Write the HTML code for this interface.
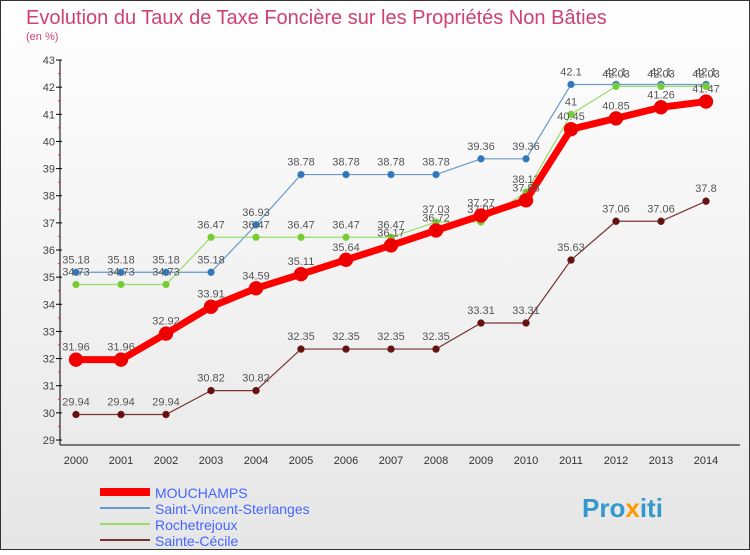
<!DOCTYPE html>
<html><head><meta charset="utf-8"><style>
body{margin:0;width:750px;height:550px;overflow:hidden;font-family:"Liberation Sans",sans-serif}
</style></head><body>
<svg width="750" height="550" xmlns="http://www.w3.org/2000/svg">
<defs><linearGradient id="bg" x1="0" y1="0" x2="0" y2="1"><stop offset="0" stop-color="#ffffff"/><stop offset="1" stop-color="#e6e6e6"/></linearGradient></defs>
<rect x="0.5" y="0.5" width="749" height="549" fill="url(#bg)" stroke="#333"/>
<text x="26" y="24" font-size="20" fill="#d04070">Evolution du Taux de Taxe Foncière sur les Propriétés Non Bâties</text>
<text x="26" y="40" font-size="11" fill="#d04070">(en %)</text>
<g id="axes"></g>
<g id="series"></g>
<g id="legend"></g>
<text x="582" y="517" font-size="26" font-weight="bold" fill="#3399cc">Pro<tspan fill="#ff9900">x</tspan>iti</text>
</svg>
<script>
const years=[2000,2001,2002,2003,2004,2005,2006,2007,2008,2009,2010,2011,2012,2013,2014];
const yTicks=[29,30,31,32,33,34,35,36,37,38,39,40,41,42,43];
const mouchamps=[31.96,31.96,32.92,33.91,34.59,35.11,35.64,36.17,36.72,37.27,37.83,40.45,40.85,41.26,41.47];
const stVincent=[35.18,35.18,35.18,35.18,36.93,38.78,38.78,38.78,38.78,39.36,39.36,42.1,42.1,42.1,42.1];
const rochetrejoux=[34.73,34.73,34.73,36.47,36.47,36.47,36.47,36.47,37.03,37.03,38.13,41,42.03,42.03,42.03];
const steCecile=[29.94,29.94,29.94,30.82,30.82,32.35,32.35,32.35,32.35,33.31,33.31,35.63,37.06,37.06,37.8];
const seriesNames=["MOUCHAMPS","Saint-Vincent-Sterlanges","Rochetrejoux","Sainte-Cécile"];
const NS="http://www.w3.org/2000/svg";
const X=i=>76+i*45, Y=v=>440-(v-29)*27.14;
function mk(t,a,p){const e=document.createElementNS(NS,t);for(const k in a)e.setAttribute(k,a[k]);p.appendChild(e);return e;}
const ax=document.getElementById('axes');
let l=mk('line',{x1:60,y1:60,x2:60,y2:445,stroke:'#000'},ax);


l=mk('line',{x1:60,y1:445,x2:740,y2:445,stroke:'#000'},ax);


yTicks.forEach(v=>{
 const g=mk('line',{x1:56,y1:Y(v),x2:62,y2:Y(v),stroke:'#000'},ax);
 
 
 if(v<43){const m=mk('line',{x1:58,y1:Y(v+0.5),x2:61,y2:Y(v+0.5),stroke:'#e33'},ax);
 
 }
 const t=mk('text',{x:55,y:Y(v)+4,'font-size':11,fill:'#444','text-anchor':'end'},ax);t.textContent=v;
 
 
});
years.forEach((y,i)=>{
 const t=mk('text',{x:X(i),y:464,'font-size':11,fill:'#333','text-anchor':'middle'},ax);t.textContent=y;
 
 
});
const sg=document.getElementById('series');
function draw(data,col,w,r,dot,name){
 const g=mk('g',{},sg);
 
 
 const p=mk('polyline',{points:data.map((v,i)=>X(i)+','+Y(v)).join(' '),fill:'none',stroke:col,'stroke-width':w},g);
 
 
 data.forEach((v,i)=>{
  const c=mk('circle',{cx:X(i),cy:Y(v),r:r,fill:dot,stroke:col,'stroke-width':0.5},g);
  
  
  const t=mk('text',{x:X(i),y:Y(v)-9,'font-size':11,fill:'#555','text-anchor':'middle'},g);t.textContent=v;
  
  
 });
}
draw(steCecile,'#773333',1.2,3.5,'#661111','sainte-cecile');
draw(stVincent,'#6699cc',1.2,3.5,'#3377bb','saint-vincent');
draw(rochetrejoux,'#99dd66',1.2,3.5,'#77cc33','rochetrejoux');
draw(mouchamps,'#ff0000',7,7,'#ee0000','mouchamps');
const lg=document.getElementById('legend');
const lcols=['#ff0000','#6699cc','#99dd66','#773333'],lw=[8,2,2,2];
seriesNames.forEach((n,i)=>{
 const y=492+i*16;
 const li=mk('line',{x1:100,y1:y,x2:150,y2:y,stroke:lcols[i],'stroke-width':lw[i]},lg);
 
 
 const t=mk('text',{x:155,y:y+6,'font-size':14,fill:'#4466ff'},lg);t.textContent=n;
 
 
});
</script>
</body></html>
